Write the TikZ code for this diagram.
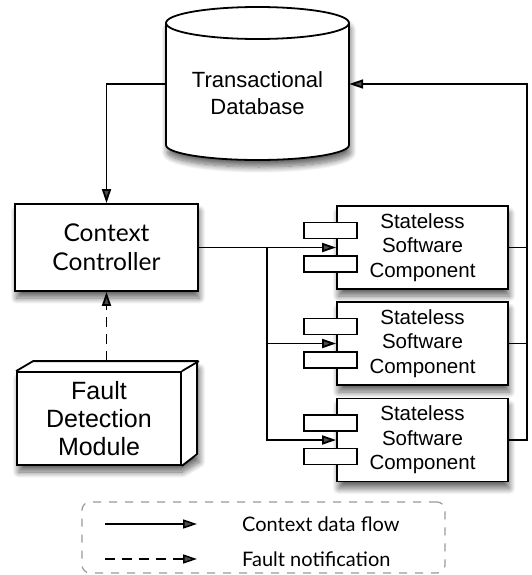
\documentclass[tikz,border=0pt]{standalone}
\usepackage{fontspec}
\setmainfont{Liberation Sans}
\newfontfamily\gillfont{Lato}
\usetikzlibrary{arrows.meta, positioning, shadows.blur}

\begin{document}
\begin{tikzpicture}[
    x=1pt, y=-1pt,
    every node/.style={align=center, inner sep=0pt},
    soft/.style={blur shadow={shadow xshift=1.5pt, shadow yshift=-7pt, shadow blur steps=12, shadow opacity=60, shadow blur radius=6pt}},
    edge/.style={line width=1.8pt},
    box/.style={draw, edge, fill=white, soft, minimum width=183pt, minimum height=87pt},
    comp/.style={draw, edge, fill=white, soft, minimum width=171pt, minimum height=83pt, font=\fontsize{20.5}{24.5}\selectfont},
    port/.style={draw, line width=1.5pt, fill=white, minimum width=53pt, minimum height=16pt},
    flow/.style={-{Triangle[length=14pt, width=9pt]}, line width=1.8pt},
    fault/.style={flow, dash pattern=on 10pt off 7pt}
]
\useasboundingbox (0,0) rectangle (531,575);

% Top: database cylinder
\path[fill=white, soft] (166,23) -- (166,145) arc (180:360:91.5pt and 15pt) -- (349,23) arc (0:180:91.5pt and 16pt) -- cycle;
\draw[edge] (166,23) -- (166,145) arc (180:360:91.5pt and 15pt) -- (349,23);
\draw[edge] (257.5,23) ellipse (91.5pt and 16pt);
\node[font=\fontsize{22}{27}\selectfont, minimum width=183pt] (db) at (257.5,93.5) {Transactional\\Database};

% Controller
\node[box, font=\gillfont\fontsize{24.5}{29}\selectfont] (cc) at (106.5,247.5) {Context\\Controller};

% Fault detection (3d box)
\path[fill=white, soft] (17,372) -- (34,362) -- (198,362) -- (198,455) -- (181,465) -- (17,465) -- cycle;
\node[draw, edge, fill=white, minimum width=164pt, minimum height=93pt, font=\fontsize{25}{28}\selectfont] (fdm) at (99,418.5) {Fault\\Detection\\Module};
\draw[edge] (fdm.north west) -- ++(17,-10) -- ++(164,0) -- ++(0,93) -- (fdm.south east);
\draw[edge] (fdm.north east) -- ++(17,-10);
\coordinate (ftop) at ([xshift=7.5pt, yshift=10pt]fdm.north);

\draw[fault] (ftop) -- (cc.south);

% Stateless components
\foreach \i/\y in {1/247.5, 2/343.5, 3/440} {
  \node[comp] (sc\i) at (422.5,\y) {Stateless\\Software\\Component};
  \node[port] (sc\i-p1) at ([xshift=-5.5pt, yshift=17pt]sc\i.west) {};
  \node[port] (sc\i-p2) at ([xshift=-5.5pt, yshift=-16.5pt]sc\i.west) {};
}

% Data flow
\draw[flow] ([yshift=9.5pt]db.west) -| (cc.north);
\coordinate (split) at (267,247.5);
\draw[flow] (cc.east) -- (sc1.west);
\draw[flow] (split) |- (sc2.west);
\draw[flow] (split) |- (sc3.west);

\coordinate (back) at (527,84);
\draw[flow] (sc3.east) -| (back) -- ([yshift=9.5pt]db.east);
\draw[edge] (sc1.east) -- (sc1.east -| back);
\draw[edge] (sc2.east) -- (sc2.east -| back);

% Legend
\node[draw=gray!80, line width=1.2pt, dash pattern=on 8pt off 8pt, rounded corners=8pt, minimum width=363pt, minimum height=71pt] (legend) at (263.5,537.5) {};
\node[anchor=west, font=\gillfont\fontsize{20}{24}\selectfont] (lflow) at (242,524) {Context data flow};
\node[anchor=west, font=\gillfont\fontsize{20}{24}\selectfont] (lfault) at (242,559) {Fault notification};
\draw[flow, line width=1.5pt] ([xshift=-137pt]lflow.west) -- ([xshift=-45pt]lflow.west);
\draw[fault, line width=1.5pt] ([xshift=-137pt]lfault.west) -- ([xshift=-45pt]lfault.west);

\end{tikzpicture}
\end{document}
